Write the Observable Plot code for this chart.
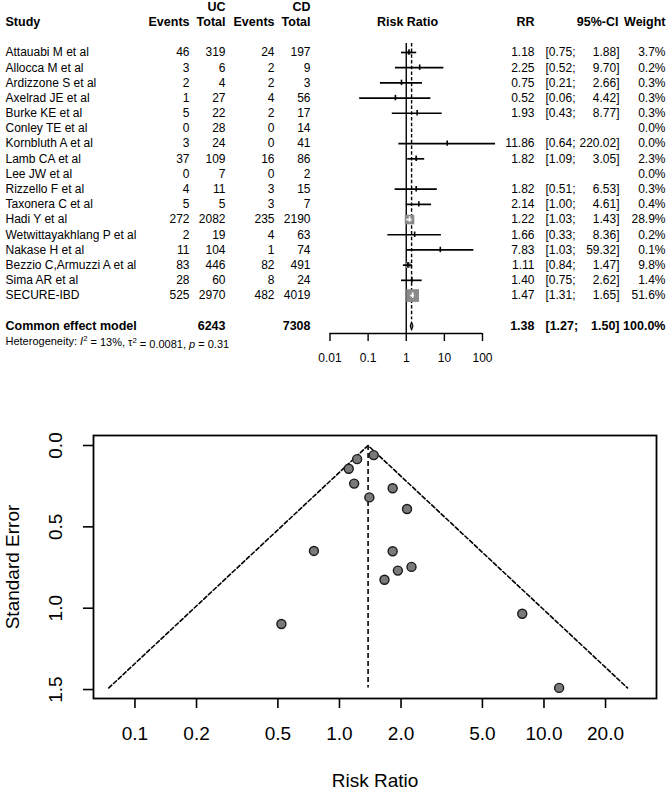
<!DOCTYPE html>
<html>
<head>
<meta charset="utf-8">
<script src="https://cdn.jsdelivr.net/npm/d3@7"></script>
<script src="https://cdn.jsdelivr.net/npm/@observablehq/plot@0.6"></script>
<style>
  body { margin: 0; background: #fff; }
  #chart svg { display: block; }
</style>
</head>
<body>
<div id="chart"></div>
<script>
// ---------------- DATA ----------------
const studies = ["Attauabi M et al","Allocca M et al","Ardizzone S et al","Axelrad JE et al","Burke KE et al","Conley TE et al","Kornbluth A et al","Lamb CA et al","Lee JW et al","Rizzello F et al","Taxonera C et al","Hadi Y et al","Wetwittayakhlang P et al","Nakase H et al","Bezzio C,Armuzzi A et al","Sima AR et al","SECURE-IBD"];
const ucEvents = [46,3,2,1,5,0,3,37,0,4,5,272,2,11,83,28,525];
const ucTotal  = [319,6,4,27,22,28,24,109,7,11,5,2082,19,104,446,60,2970];
const cdEvents = [24,2,2,4,2,0,0,16,0,3,3,235,4,1,82,8,482];
const cdTotal  = [197,9,3,56,17,14,41,86,2,15,7,2190,63,74,491,24,4019];
const riskRatio = [1.18,2.25,0.75,0.52,1.93,null,11.86,1.82,null,1.82,2.14,1.22,1.66,7.83,1.11,1.40,1.47];
const ciLower   = [0.75,0.52,0.21,0.06,0.43,null,0.64,1.09,null,0.51,1.00,1.03,0.33,1.03,0.84,0.75,1.31];
const ciUpper   = [1.88,9.70,2.66,4.42,8.77,null,220.02,3.05,null,6.53,4.61,1.43,8.36,59.32,1.47,2.62,1.65];
const weights   = [3.7,0.2,0.3,0.3,0.3,0.0,0.0,2.3,0.0,0.3,0.4,28.9,0.2,0.1,9.8,1.4,51.6];

const commonLabel = "Common effect model";
const commonUcTotal = 6243, commonCdTotal = 7308;
const commonRR = 1.38, commonLower = 1.27, commonUpper = 1.50, commonWeight = 100.0;
const hetI2 = 13, hetTau2 = "0.0081", hetP = "0.31";

const forestTicks = [0.01, 0.1, 1, 10, 100];

// funnel plot (study risk ratios and their standard errors)
const funnelRR = [1.18,2.25,0.75,0.52,1.93,11.86,1.82,1.82,2.14,1.22,1.66,7.83,1.11,1.40,1.47];
const funnelSE = [0.234,0.746,0.648,1.097,0.769,1.490,0.263,0.650,0.390,0.084,0.825,1.034,0.143,0.319,0.059];
const funnelSEMax = 1.49;
const funnelLimitLow = 0.0745, funnelLimitHigh = 25.6;
const funnelXTicks = [0.1, 0.2, 0.5, 1, 2, 5, 10, 20];
const funnelYTicks = [0, 0.5, 1, 1.5];

// ---------------- LAYOUT ----------------
const FONT = '"Liberation Sans", Arial, Helvetica, sans-serif';
const FOREST = {width: 669, height: 380, marginLeft: 329.5, marginRight: 187, marginTop: 0, marginBottom: 47};
const ROWS = {top: -3.423, bottom: 18.5, groupHead: -3, head: -2, common: 18, het: 19, refTop: -0.6, dashBottom: 17.6};
const COLX = {study: 5, ucEv: 189, ucTot: 225, cdEv: 274, cdTot: 310, rrHead: 407, rr: 534, ciL: 545, ciR: 619, ciHead: 618, wt: 665};
const FL = FOREST.marginLeft;
const decadePx = (FOREST.width - FOREST.marginLeft - FOREST.marginRight) / 4;

const rows = studies.map((s, i) => ({
  study: s, row: i,
  ucEv: String(ucEvents[i]), ucTot: String(ucTotal[i]),
  cdEv: String(cdEvents[i]), cdTot: String(cdTotal[i]),
  rr: riskRatio[i], lower: ciLower[i], upper: ciUpper[i], weight: weights[i]
}));
const est = rows.filter(d => d.rr != null).map(d => {
  const side = Math.sqrt(Math.PI) * Math.sqrt(d.weight);
  const ciPx = decadePx * Math.log10(d.upper / d.lower);
  return {...d, lineColor: ciPx < side ? "white" : "black"};
});

function col(data, text, x, anchor, extra = {}) {
  return Plot.text(data, {y: "row", text, frameAnchor: "left", dx: x - FL, textAnchor: anchor, lineAnchor: "middle", fontSize: 12, fill: "black", ...extra});
}

const head = [{row: ROWS.head}];
const groupHead = [{row: ROWS.groupHead}];
const common = [{row: ROWS.common}];
const bold = {fontWeight: "bold", fontSize: 12.5};

const diamond = [
  {x: commonLower, y: ROWS.common},
  {x: commonRR, y: ROWS.common - 0.27},
  {x: commonUpper, y: ROWS.common},
  {x: commonRR, y: ROWS.common + 0.27},
  {x: commonLower, y: ROWS.common}
];

const forest = Plot.plot({
  width: FOREST.width, height: FOREST.height,
  marginLeft: FOREST.marginLeft, marginRight: FOREST.marginRight,
  marginTop: FOREST.marginTop, marginBottom: FOREST.marginBottom,
  style: {fontFamily: FONT, fontSize: "12px", color: "black", background: "white", overflow: "visible"},
  x: {type: "log", domain: [forestTicks[0], forestTicks[forestTicks.length - 1]], label: null},
  y: {domain: [ROWS.top, ROWS.bottom], reverse: true, axis: null, label: null},
  r: {type: "sqrt", domain: [0, 100], range: [0, 10]},
  marks: [
    // headers
    col(groupHead, () => "UC", COLX.ucTot, "end", bold),
    col(groupHead, () => "CD", COLX.cdTot, "end", bold),
    col(head, () => "Study", COLX.study, "start", bold),
    col(head, () => "Events", COLX.ucEv, "end", bold),
    col(head, () => "Total", COLX.ucTot, "end", bold),
    col(head, () => "Events", COLX.cdEv, "end", bold),
    col(head, () => "Total", COLX.cdTot, "end", bold),
    col(head, () => "Risk Ratio", COLX.rrHead, "middle", bold),
    col(head, () => "RR", COLX.rr, "end", bold),
    col(head, () => "95%-CI", COLX.ciHead, "end", bold),
    col(head, () => "Weight", COLX.wt, "end", bold),
    // study rows
    col(rows, "study", COLX.study, "start"),
    col(rows, "ucEv", COLX.ucEv, "end"),
    col(rows, "ucTot", COLX.ucTot, "end"),
    col(rows, "cdEv", COLX.cdEv, "end"),
    col(rows, "cdTot", COLX.cdTot, "end"),
    col(est, d => d.rr.toFixed(2), COLX.rr, "end"),
    col(est, d => `[${d.lower.toFixed(2)};`, COLX.ciL, "start"),
    col(est, d => `${d.upper.toFixed(2)}]`, COLX.ciR, "end"),
    col(rows, d => d.weight.toFixed(1) + "%", COLX.wt, "end"),
    // common effect row
    col(common, () => commonLabel, COLX.study, "start", bold),
    col(common, () => String(commonUcTotal), COLX.ucTot, "end", bold),
    col(common, () => String(commonCdTotal), COLX.cdTot, "end", bold),
    col(common, () => commonRR.toFixed(2), COLX.rr, "end", bold),
    col(common, () => `[${commonLower.toFixed(2)};`, COLX.ciL, "start", bold),
    col(common, () => `${commonUpper.toFixed(2)}]`, COLX.ciR, "end", bold),
    col(common, () => commonWeight.toFixed(1) + "%", COLX.wt, "end", bold),
    col([{row: ROWS.het}], () => `Heterogeneity: I2 = ${hetI2}%, t2 = ${hetTau2}, p = ${hetP}`, COLX.study, "start", {fontSize: 11}),
    // reference lines
    Plot.ruleX([1], {y1: ROWS.refTop, y2: ROWS.bottom, stroke: "black", strokeWidth: 1.4}),
    Plot.ruleX([commonRR], {y1: ROWS.refTop, y2: ROWS.dashBottom, stroke: "black", strokeWidth: 1.4, strokeDasharray: "3.5,2.2"}),
    // squares, CIs, estimates
    Plot.dot(est, {x: "rr", y: "row", r: "weight", symbol: "square", fill: "#8a8a8a", stroke: "none"}),
    Plot.ruleY(est, {y: "row", x1: "lower", x2: "upper", stroke: "lineColor", strokeWidth: 1.7}),
    Plot.ruleX(est, {x: "rr", y1: d => d.row - 0.18, y2: d => d.row + 0.18, stroke: "lineColor", strokeWidth: 1.6}),
    // diamond
    Plot.line(diamond, {x: "x", y: "y", stroke: "black", strokeWidth: 1.1, fill: "#8a8a8a"}),
    // axis
    Plot.ruleY([ROWS.bottom], {x1: forestTicks[0], x2: forestTicks[forestTicks.length - 1], stroke: "black", strokeWidth: 1.4}),
    Plot.axisX({ticks: forestTicks, tickSize: 8, tickPadding: 12, tickFormat: d => String(d), label: null, fontSize: 12, strokeWidth: 1.4})
  ]
});

// rich text for heterogeneity
const hetText = [...forest.querySelectorAll("text")].find(t => t.textContent.startsWith("Heterogeneity"));
if (hetText) {
  hetText.innerHTML = `Heterogeneity: <tspan font-style="italic">I</tspan><tspan dy="-0.45em" font-size="70%">2</tspan><tspan dy="0.45em"> = ${hetI2}%, τ</tspan><tspan dy="-0.45em" font-size="70%">2</tspan><tspan dy="0.45em"> = ${hetTau2}, </tspan><tspan font-style="italic">p</tspan><tspan> = ${hetP}</tspan>`;
}

// ---------------- FUNNEL ----------------
const funnelPts = funnelRR.map((v, i) => ({rr: v, se: funnelSE[i]}));
const funnelEdges = [
  {x: funnelLimitLow, y: funnelSEMax},
  {x: commonRR, y: 0},
  {x: funnelLimitHigh, y: funnelSEMax}
];
const fmt1 = d3.format(".1f");

const funnel = Plot.plot({
  width: 669, height: 412,
  marginLeft: 93, marginRight: 13, marginTop: 55, marginBottom: 94,
  style: {fontFamily: FONT, fontSize: "19px", color: "black", background: "white", overflow: "visible"},
  x: {type: "log", domain: [0.0627, 35.5], label: null},
  y: {domain: [-0.0615, 1.555], reverse: true, label: null},
  marks: [
    Plot.axisX({ticks: funnelXTicks, tickSize: 10, tickFormat: () => "", label: null, strokeWidth: 1.6}),
    Plot.axisY({ticks: funnelYTicks, tickSize: 10, tickFormat: () => "", label: null, strokeWidth: 1.6}),
    Plot.text(funnelXTicks, {x: d => d, text: d => fmt1(d), frameAnchor: "bottom", dy: 35, textAnchor: "middle", lineAnchor: "middle", fontSize: 19, fill: "black"}),
    Plot.text(funnelYTicks, {y: d => d, text: d => fmt1(d), frameAnchor: "left", dx: -38, rotate: -90, textAnchor: "middle", lineAnchor: "middle", fontSize: 19, fill: "black"}),
    Plot.text(["Standard Error"], {frameAnchor: "left", dx: -81, rotate: -90, textAnchor: "middle", lineAnchor: "middle", fontSize: 19, fill: "black"}),
    Plot.text(["Risk Ratio"], {frameAnchor: "bottom", dy: 82, textAnchor: "middle", lineAnchor: "middle", fontSize: 19, fill: "black"}),
    Plot.line(funnelEdges, {x: "x", y: "y", stroke: "black", strokeWidth: 1.6, strokeDasharray: "4,2.5"}),
    Plot.ruleX([commonRR], {y1: 0, y2: funnelSEMax, stroke: "black", strokeWidth: 1.6, strokeDasharray: "5,3"}),
    Plot.dot(funnelPts, {x: "rr", y: "se", r: 4.5, fill: "#7a7a7a", stroke: "#1a1a1a", strokeWidth: 1.4}),
    Plot.frame({stroke: "black", strokeWidth: 1.8})
  ]
});

const chart = document.getElementById("chart");
chart.appendChild(forest);
chart.appendChild(funnel);
</script>
</body>
</html>
